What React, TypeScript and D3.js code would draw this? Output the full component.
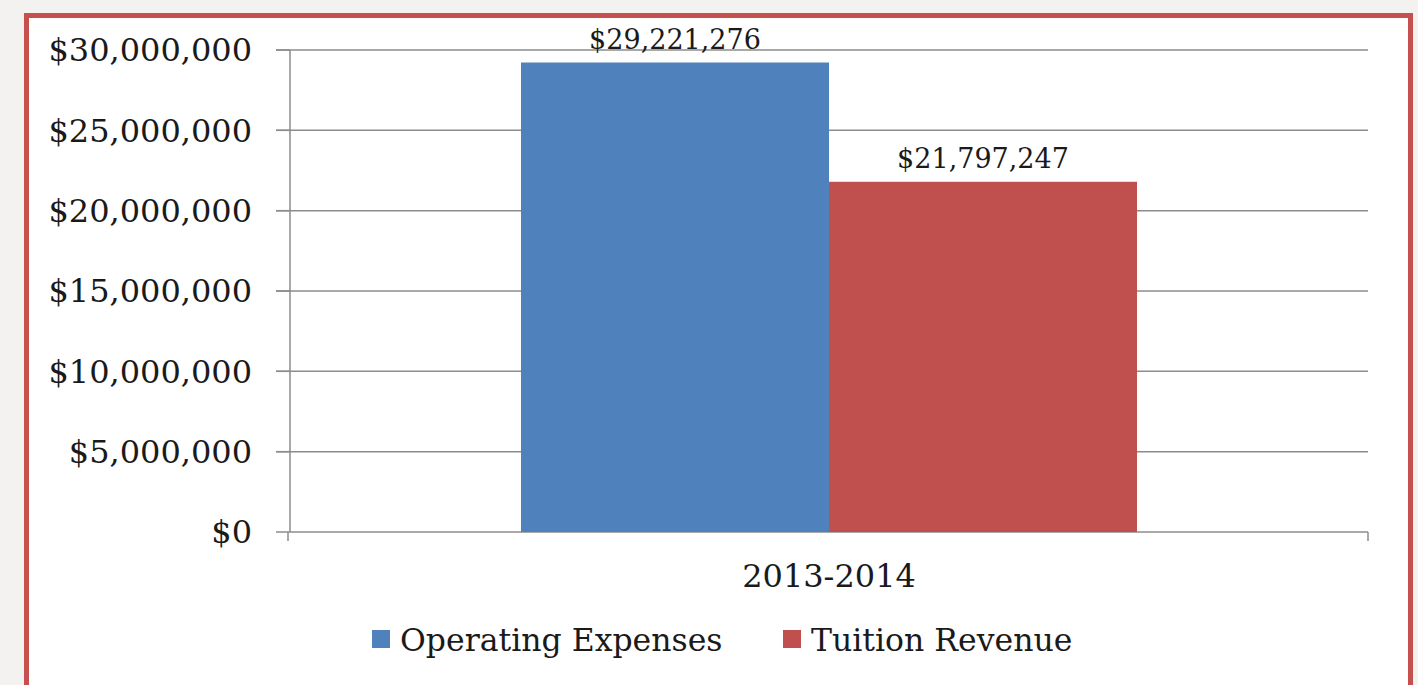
import React from "react";
import * as d3 from "d3";

const categories = ["2013-2014"];
const seriesNames = ["Operating Expenses", "Tuition Revenue"];
const operatingExpenses = [29221276];
const tuitionRevenue = [21797247];
const yTicks = [0, 5000000, 10000000, 15000000, 20000000, 25000000, 30000000];
const colors = ["#4f81bd", "#c0504d"];

const W = 1418;
const H = 685;
const FONT = "'DejaVu Serif', serif";

export default function App() {
  const plot = { left: 290, right: 1368, top: 50, bottom: 532 };
  const y = d3.scaleLinear().domain([0, 30000000]).range([plot.bottom, plot.top]);
  const x0 = d3.scaleBand().domain(categories).range([plot.left, plot.right]).paddingInner(0).paddingOuter(0);
  const groupW = x0.bandwidth() / 1.75;
  const x1 = d3
    .scaleBand()
    .domain(seriesNames)
    .range([0, groupW])
    .padding(0);
  const fmt = (v: number) => "$" + d3.format(",")(v);
  const seriesVals = [operatingExpenses, tuitionRevenue];

  return (
    <svg width={W} height={H} style={{ position: "absolute", left: 0, top: 0 }}>
      <rect x={0} y={0} width={W} height={H} fill="#f3f2f0" />
      <rect x={26.5} y={15.5} width={1384} height={720} fill="#ffffff" stroke="#c6504e" strokeWidth={5} />
      {yTicks.map((t) => (
        <g key={t}>
          <line
            x1={t === 0 ? plot.left : plot.left - 14}
            x2={plot.right}
            y1={y(t)}
            y2={y(t)}
            stroke="#8c8c8c"
            strokeWidth={1.5}
          />
          <line x1={plot.left - 14} x2={plot.left} y1={y(t)} y2={y(t)} stroke="#8c8c8c" strokeWidth={1.5} />
          <text
            x={252}
            y={y(t)}
            dy="0.35em"
            textAnchor="end"
            fontFamily={FONT}
            fontSize={32}
            fill="#1a1a1a"
          >
            {fmt(t)}
          </text>
        </g>
      ))}
      <line x1={plot.left} x2={plot.left} y1={plot.top} y2={plot.bottom} stroke="#8c8c8c" strokeWidth={1.5} />
      {categories.map((c, ci) => {
        const gx = (x0(c) as number) + (x0.bandwidth() - groupW) / 2;
        return (
          <g key={c}>
            {seriesNames.map((s, si) => {
              const v = seriesVals[si][ci];
              const bx = gx + (x1(s) as number);
              return (
                <g key={s}>
                  <rect x={bx} y={y(v)} width={x1.bandwidth()} height={plot.bottom - y(v)} fill={colors[si]} />
                  <text
                    x={bx + x1.bandwidth() / 2}
                    y={y(v) - 14}
                    textAnchor="middle"
                    fontFamily={FONT}
                    fontSize={27}
                    fill="#1a1a1a"
                  >
                    {fmt(v)}
                  </text>
                </g>
              );
            })}
            <text
              x={(x0(c) as number) + x0.bandwidth() / 2}
              y={587}
              textAnchor="middle"
              fontFamily={FONT}
              fontSize={32}
              fill="#1a1a1a"
            >
              {c}
            </text>
          </g>
        );
      })}
      {[plot.left - 2, plot.right].map((tx, i) => (
        <line key={i} x1={tx} x2={tx} y1={plot.bottom} y2={plot.bottom + 9} stroke="#8c8c8c" strokeWidth={1.5} />
      ))}
      {seriesNames.map((s, i) => {
        const lx = [372, 783][i];
        return (
          <g key={s}>
            <rect x={lx} y={630} width={18} height={18} fill={colors[i]} />
            <text x={lx + 28} y={651} fontFamily={FONT} fontSize={31.5} fill="#1a1a1a">
              {s}
            </text>
          </g>
        );
      })}
    </svg>
  );
}
